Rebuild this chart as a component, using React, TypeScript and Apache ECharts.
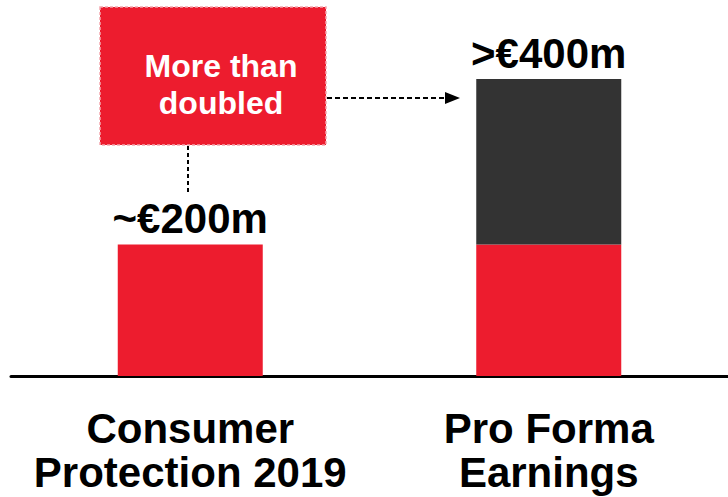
import React, { useEffect, useRef } from "react";
import * as echarts from "echarts";

const categories = ["Consumer\nProtection 2019", "Pro Forma\nEarnings"];
const baseValues = [200, 200];
const upliftValues = [0, 252];
const topLabels = ["~€200m", ">€400m"];
const boxText = "More than\ndoubled";

const RED = "#ED1C2E";
const DARK = "#333333";
const FONT = "'Liberation Sans', Arial, sans-serif";

export default function App() {
  const ref = useRef<HTMLDivElement>(null);
  useEffect(() => {
    if (!ref.current) return;
    const chart = echarts.init(ref.current, undefined, { renderer: "svg" });
    const labelStyle = {
      show: true,
      position: "top",
      distance: 5,
      fontSize: 42,
      fontWeight: "bold",
      fontFamily: FONT,
      color: "#000",
    };
    chart.setOption({
      animation: false,
      grid: { left: 11, right: 0, top: 79, bottom: 121 },
      xAxis: {
        type: "category",
        data: categories,
        axisLine: { lineStyle: { color: "#000", width: 3 } },
        axisTick: { show: false },
        axisLabel: {
          interval: 0,
          hideOverlap: false,
          fontSize: 42,
          fontWeight: "bold",
          fontFamily: FONT,
          color: "#000",
          lineHeight: 44,
          margin: 30,
        },
      },
      yAxis: { type: "value", min: 0, max: 452, show: false, splitLine: { show: false } },
      series: [
        {
          type: "bar",
          stack: "t",
          barWidth: 145,
          itemStyle: { color: RED },
          data: baseValues.map((v, i) => ({
            value: v,
            label: upliftValues[i] === 0 ? { ...labelStyle, formatter: topLabels[i] } : { show: false },
          })),
        },
        {
          type: "bar",
          stack: "t",
          barWidth: 145,
          itemStyle: { color: DARK },
          data: upliftValues.map((v, i) => ({
            value: v,
            label: v > 0 ? { ...labelStyle, formatter: topLabels[i] } : { show: false },
          })),
        },
      ],
      graphic: [
        {
          type: "rect",
          shape: { x: 100, y: 7, width: 226, height: 138 },
          style: { fill: RED, stroke: "#F4A6AE", lineWidth: 1.5, lineDash: [3, 2] },
        },
        {
          type: "text",
          x: 221,
          y: 84,
          style: {
            text: boxText,
            fill: "#fff",
            fontSize: 32,
            fontWeight: "bold",
            fontFamily: FONT,
            align: "center",
            verticalAlign: "middle",
            lineHeight: 37,
          },
        },
        {
          type: "line",
          shape: { x1: 327, y1: 98, x2: 446, y2: 98 },
          style: { stroke: "#000", lineWidth: 2, lineDash: [5, 3] },
        },
        {
          type: "polygon",
          shape: { points: [[445, 92], [460, 98], [445, 104]] },
          style: { fill: "#000" },
        },
        {
          type: "line",
          shape: { x1: 188, y1: 146, x2: 188, y2: 192 },
          style: { stroke: "#000", lineWidth: 2, lineDash: [4, 3] },
        },
      ],
    });
    return () => chart.dispose();
  }, []);
  return (
    <div
      ref={ref}
      style={{ position: "absolute", left: 0, top: 0, width: 728, height: 497, background: "#fff" }}
    />
  );
}
